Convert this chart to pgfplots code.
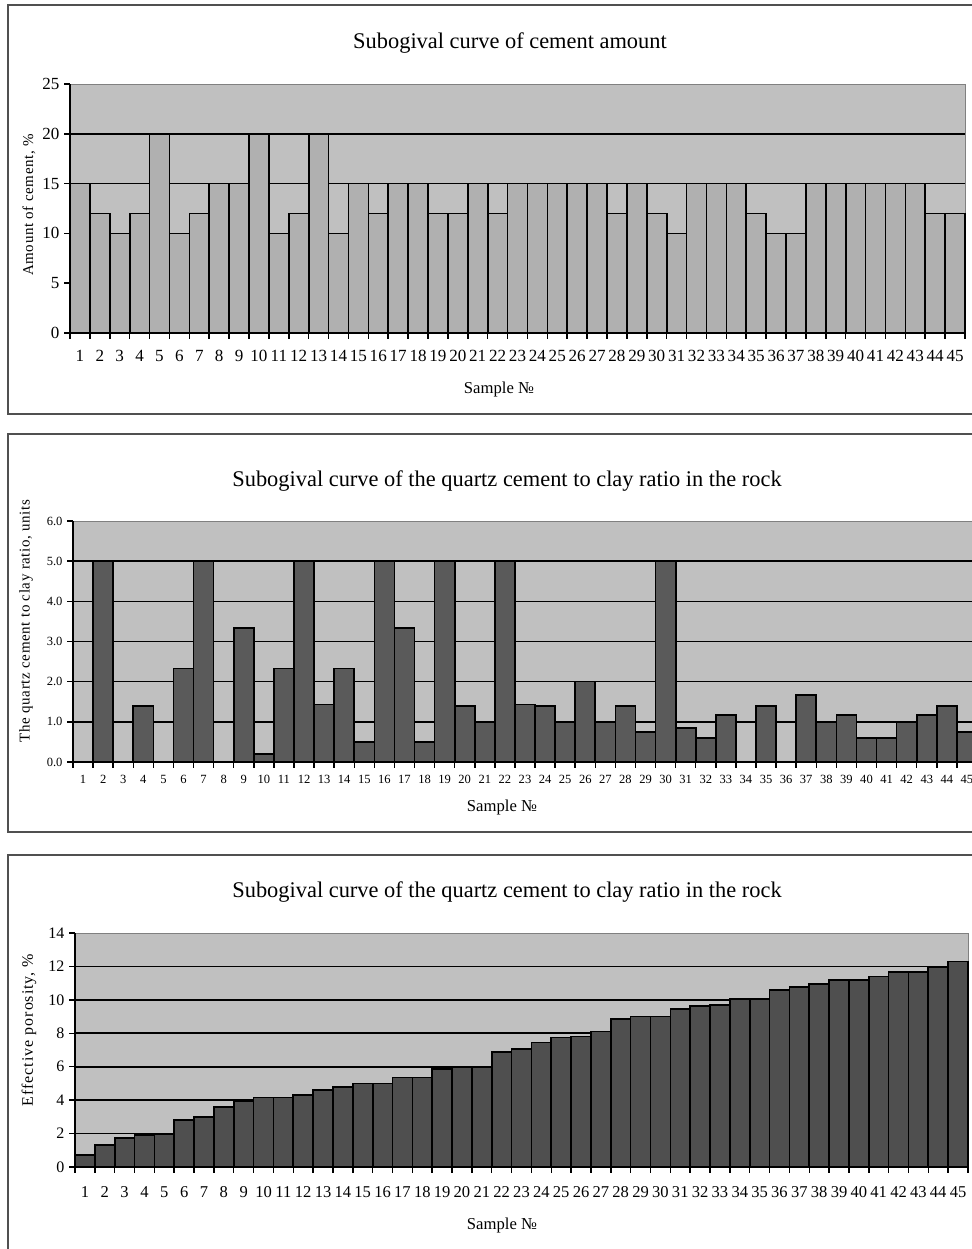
\documentclass[border=0pt]{standalone}
\usepackage{pgfplots}
\pgfplotsset{compat=1.18}
\usepackage{fontspec}
\setmainfont{Liberation Serif}
\newfontfamily\ylabA[LetterSpace=4]{Liberation Serif}
\newfontfamily\ylabC[LetterSpace=6]{Liberation Serif}
\definecolor{bg}{HTML}{C0C0C0}
\definecolor{barA}{HTML}{B0B0B0}
\definecolor{barB}{HTML}{5A5A5A}
\definecolor{barC}{HTML}{4F4F4F}
\definecolor{frm}{HTML}{505050}
\pgfplotsset{
  panel/.style={
    scale only axis, anchor=south west,
    xmin=0.5, xmax=45.5, ymin=0,
    axis lines*=left,
    axis line style={black, line width=1.6pt, -},
    axis background/.style={fill=bg, draw=gray, line width=0.6pt},
    xtick={0.5,1.5,...,45.5}, xticklabels={},
    extra x ticks={1,...,45},
    extra x tick style={major tick length=0pt},
    tick align=outside,
    major tick length=4.4pt,
    tick style={black, line width=1.1pt},
    ymajorgrids, grid style={black, line width=1.2pt},
    extra y tick style={grid=none},
    /pgf/number format/assume math mode=true,
    clip=false,
  },
  bars/.style={ybar, bar width=1, bar shift=0, draw=black, line width=1.25pt},
}
\pgfplotstableread{
x a b c
1 15 0 0.7
2 12 5.0 1.3
3 10 0 1.75
4 12 1.4 1.9
5 20 0 1.95
6 10 2.33 2.8
7 12 5.0 3.0
8 15 0 3.6
9 15 3.33 3.95
10 20 0.2 4.15
11 10 2.33 4.15
12 12 5.0 4.3
13 20 1.43 4.6
14 10 2.33 4.8
15 15 0.5 5.0
16 12 5.0 5.0
17 15 3.33 5.35
18 15 0.5 5.35
19 12 5.0 5.85
20 12 1.4 5.95
21 15 1.0 5.95
22 12 5.0 6.9
23 15 1.43 7.05
24 15 1.4 7.45
25 15 1.0 7.75
26 15 2.0 7.8
27 15 1.0 8.1
28 12 1.4 8.85
29 15 0.75 9.0
30 12 5.0 9.0
31 10 0.85 9.45
32 15 0.6 9.65
33 15 1.17 9.7
34 15 0 10.05
35 12 1.4 10.05
36 10 0 10.6
37 10 1.67 10.75
38 15 1.0 10.95
39 15 1.17 11.2
40 15 0.6 11.2
41 15 0.6 11.4
42 15 1.0 11.65
43 15 1.17 11.65
44 12 1.4 11.95
45 12 0.75 12.3
}\data
% pixel -> pt helper: 1 px = 0.75 pt, y measured upward from the bottom
\newcommand{\PP}[2]{({#1*0.75pt},{#2*0.75pt})}
\begin{document}
\begin{tikzpicture}
\useasboundingbox \PP{0}{0} rectangle \PP{971}{1249};
\fill[white] \PP{0}{0} rectangle \PP{971}{1249};
% frames
\draw[frm, line width=1.1pt] \PP{8}{1244} rectangle \PP{995}{835};
\draw[frm, line width=1.1pt] \PP{8}{815} rectangle \PP{995}{417};
\draw[frm, line width=1.1pt] \PP{8}{394} rectangle \PP{995}{-20};

% Panel 1
\begin{axis}[panel, at={(52.5pt,687pt)}, width=671.25pt, height=186.75pt,
  ymax=25, ytick={0,5,...,20}, extra y ticks={25},
  yticklabel style={font=\fontsize{12.75}{14}\selectfont},
  xticklabel style={font=\fontsize{12.8}{14}\selectfont, anchor=north, text height=1.5ex, text depth=0.2ex, yshift=-11pt},
]
\addplot[bars, fill=barA] table[x=x, y=a] {\data};
\end{axis}
\node[font=\fontsize{16.8}{18}\selectfont] at \PP{510}{1206} {Subogival curve of cement amount};
\node[font=\fontsize{12.5}{14}\selectfont] at \PP{499}{859} {Sample №};
\node[font=\fontsize{11.25}{13}\ylabA\selectfont, rotate=90] at \PP{29}{1044} {Amount of cement, \%};

% Panel 2
\begin{axis}[panel, at={(54.75pt,365.25pt)}, width=678pt, height=180.75pt,
  ymax=6, ytick={0,1,...,5}, extra y ticks={6},
  yticklabel style={font=\fontsize{9.4}{11}\selectfont, /pgf/number format/.cd, fixed, fixed zerofill, precision=1},
  xticklabel style={font=\fontsize{9.4}{11}\selectfont, anchor=north, text height=1.5ex, text depth=0.2ex, yshift=-6pt},
]
\addplot[bars, fill=barB] table[x=x, y=b] {\data};
\end{axis}
\node[font=\fontsize{16.8}{18}\selectfont] at \PP{507}{768} {Subogival curve of the quartz cement to clay ratio in the rock};
\node[font=\fontsize{12.5}{14}\selectfont] at \PP{502}{442} {Sample №};
\node[font=\fontsize{11.25}{13}\ylabA\selectfont, rotate=90] at \PP{26}{628} {The quartz cement to clay ratio, units};

% Panel 3
\begin{axis}[panel, at={(56.25pt,61.5pt)}, width=669.75pt, height=175.5pt,
  ymax=14, ytick={0,2,...,12}, extra y ticks={14},
  yticklabel style={font=\fontsize{12}{14}\selectfont},
  xticklabel style={font=\fontsize{12.4}{14}\selectfont, anchor=north, text height=1.5ex, text depth=0.2ex, yshift=-12.5pt},
]
\addplot[bars, fill=barC] table[x=x, y=c] {\data};
\end{axis}
\node[font=\fontsize{16.8}{18}\selectfont] at \PP{507}{357} {Subogival curve of the quartz cement to clay ratio in the rock};
\node[font=\fontsize{12.5}{14}\selectfont] at \PP{502}{24} {Sample №};
\node[font=\fontsize{12}{14}\ylabC\selectfont, rotate=90] at \PP{29}{219} {Effective porosity, \%};
\end{tikzpicture}
\end{document}
